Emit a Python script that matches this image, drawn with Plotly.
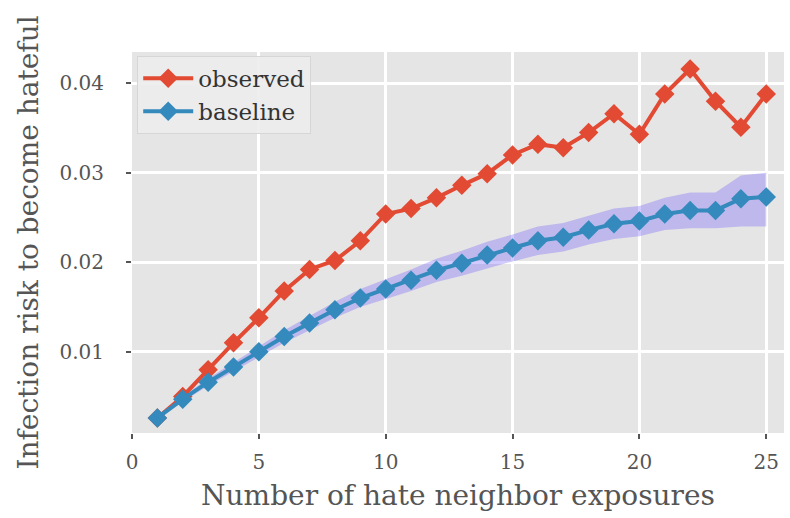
import plotly.graph_objects as go

exposures = list(range(1, 26))
observed = [0.0026, 0.0050, 0.0080, 0.0110, 0.0138, 0.0168, 0.0192, 0.0202, 0.0224, 0.0254,
            0.0260, 0.0272, 0.0286, 0.0299, 0.0320, 0.0332, 0.0328, 0.0345, 0.0366, 0.0343,
            0.0388, 0.0416, 0.0380, 0.0351, 0.0388]
baseline = [0.0026, 0.0047, 0.0066, 0.0083, 0.0100, 0.0117, 0.0132, 0.0147, 0.0160, 0.0170,
            0.0180, 0.0191, 0.0199, 0.0208, 0.0216, 0.0224, 0.0228, 0.0236, 0.0243, 0.0246,
            0.0254, 0.0258, 0.0258, 0.0271, 0.0273]
baseline_upper = [0.0028, 0.0050, 0.0070, 0.0088, 0.0106, 0.0124, 0.0140, 0.0156, 0.0170, 0.0181,
                  0.0192, 0.0204, 0.0213, 0.0223, 0.0231, 0.0240, 0.0244, 0.0252, 0.0260, 0.0263,
                  0.0272, 0.0278, 0.0278, 0.0297, 0.0300]
baseline_lower = [0.0024, 0.0044, 0.0062, 0.0078, 0.0094, 0.0110, 0.0124, 0.0138, 0.0150, 0.0159,
                  0.0168, 0.0178, 0.0185, 0.0193, 0.0201, 0.0208, 0.0212, 0.0220, 0.0226, 0.0229,
                  0.0236, 0.0238, 0.0238, 0.0240, 0.0240]
x_ticks = [0, 5, 10, 15, 20, 25]
y_ticks = [0.01, 0.02, 0.03, 0.04]
y_tick_labels = ["0.01", "0.02", "0.03", "0.04"]

RED = "#E24A33"
BLUE = "#348ABD"
FONT = "DejaVu Serif"

fig = go.Figure()
fig.add_trace(go.Scatter(x=exposures, y=baseline_lower, mode="lines",
                         line=dict(width=0, color="rgba(0,0,0,0)"),
                         showlegend=False, hoverinfo="skip"))
fig.add_trace(go.Scatter(x=exposures, y=baseline_upper, mode="lines",
                         line=dict(width=0, color="rgba(0,0,0,0)"),
                         fill="tonexty", fillcolor="rgba(100,80,255,0.3)",
                         showlegend=False, hoverinfo="skip"))
fig.add_trace(go.Scatter(x=exposures, y=observed, mode="lines+markers", name="observed",
                         line=dict(color=RED, width=4),
                         marker=dict(symbol="diamond", size=15, color=RED)))
fig.add_trace(go.Scatter(x=exposures, y=baseline, mode="lines+markers", name="baseline",
                         line=dict(color=BLUE, width=4),
                         marker=dict(symbol="diamond", size=15, color=BLUE)))

fig.update_layout(
    width=790, height=518,
    margin=dict(l=132, r=6, t=52, b=85),
    paper_bgcolor="white", plot_bgcolor="#E5E5E5",
    font=dict(family=FONT, color="#555555", size=17),
    legend=dict(x=0.008, y=0.99, xanchor="left", yanchor="top",
                bgcolor="rgba(236,236,236,0.9)", bordercolor="#D6D6D6", borderwidth=1,
                font=dict(size=23, color="#333333"), itemwidth=50,
                traceorder="normal", tracegroupgap=4),
    showlegend=True,
)
fig.update_xaxes(range=[0, 25.7], tickvals=x_ticks, showgrid=True, gridcolor="white", gridwidth=2.5,
                 zeroline=False, ticks="outside", ticklen=5, tickwidth=1.5, tickcolor="#555555",
                 tickfont=dict(size=20, color="#555555"), ticklabelstandoff=6,
                 title=dict(text="Number of hate neighbor exposures", font=dict(size=28, color="#555555"),
                            standoff=12))
fig.update_yaxes(range=[0.00092, 0.0435], tickvals=y_ticks, ticktext=y_tick_labels,
                 showgrid=True, gridcolor="white", gridwidth=2.5,
                 zeroline=False, ticks="outside", ticklen=5, tickwidth=1.5, tickcolor="#555555",
                 tickfont=dict(size=20, color="#555555"), ticklabelstandoff=18,
                 title=dict(text="Infection risk to become hateful", font=dict(size=28, color="#555555"),
                            standoff=12))

fig.write_html("out.html")
